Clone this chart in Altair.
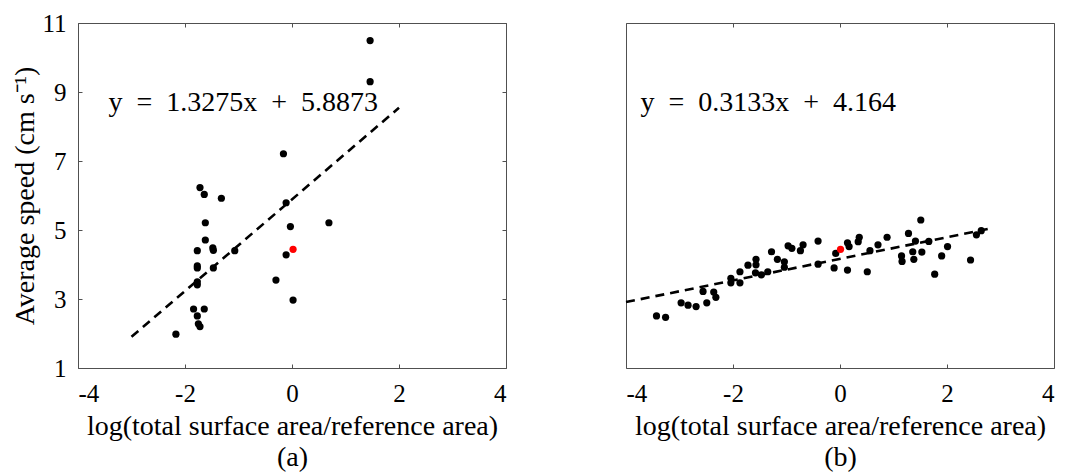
import altair as alt
import pandas as pd

# ---------------- data ----------------
# Panel (a)
a_x = [1.46, 1.46, -0.16, -1.72, -1.64, -1.32, -0.11, -1.62, -0.03, 0.69,
       -1.62, -1.77, -1.48, -1.47, -1.07, -0.11, -1.77, -1.77, -1.47, -1.77,
       -1.77, -0.30, 0.02, -1.84, -1.64, -1.77, -1.75, -1.72, -2.17]
a_y = [10.49, 9.30, 7.21, 6.23, 6.03, 5.92, 5.79, 5.21, 5.10, 5.21,
       4.71, 4.40, 4.48, 4.41, 4.40, 4.28, 3.96, 3.90, 3.90, 3.50,
       3.41, 3.55, 2.97, 2.71, 2.71, 2.51, 2.28, 2.20, 1.98]
a_red_x = [0.02]
a_red_y = [4.44]
a_slope, a_icpt = 1.3275, 5.8873
a_fit_x = [-3.0, 2.0]
a_eq = "y\u2002=\u20021.3275x\u2002+\u20025.8873"

# Panel (b)
b_x = [-3.43, -3.26, -2.97, -2.84, -2.69, -2.56, -2.49, -2.36, -2.32, -2.04,
       -2.04, -1.87, -1.87, -1.72, -1.57, -1.57, -1.58, -1.47, -1.35, -1.28,
       -1.17, -1.04, -1.04, -0.97, -0.90, -0.74, -0.69, -0.41, -0.41, -0.11,
       -0.08, 0.14, 0.17, 0.14, 0.36, 0.34, 0.51, 0.56, 0.71, 0.88,
       1.15, 1.16, 1.28, 1.36, 1.38, 1.41, 1.51, 1.53, 1.66, 1.77,
       1.90, 2.01, 2.44, 2.55, 2.64]
b_y = [2.51, 2.47, 2.89, 2.82, 2.78, 3.22, 2.89, 3.20, 3.05, 3.60,
       3.47, 3.79, 3.47, 3.98, 4.15, 3.99, 3.76, 3.70, 3.79, 4.37,
       4.15, 4.08, 3.92, 4.54, 4.47, 4.40, 4.57, 4.68, 4.01, 3.90,
       4.32, 4.63, 4.52, 3.84, 4.79, 4.66, 3.79, 4.40, 4.57, 4.79,
       4.25, 4.09, 4.90, 4.37, 4.15, 4.68, 5.29, 4.36, 4.67, 3.72,
       4.25, 4.52, 4.13, 4.86, 4.98]
b_red_x = [0.01]
b_red_y = [4.44]
b_slope, b_icpt = 0.3133, 4.164
b_fit_x = [-4.0, 2.8]
b_eq = "y\u2002=\u20020.3133x\u2002+\u20024.164"

x_ticks = [-4, -2, 0, 2, 4]
y_ticks = [1, 3, 5, 7, 9, 11]
x_title = "log(total surface area/reference area)"
y_title = "Average speed (cm s\u207b\u00b9)"

FONT = "Liberation Serif, serif"
FRAME = "#505050"


def panel(px, py, rx, ry, slope, icpt, fit_x, eq, eq_x, eq_y, caption, show_y):
    xs = alt.Scale(domain=[-4, 4], nice=False, zero=False)
    ys = alt.Scale(domain=[1, 11], nice=False, zero=False)

    x_bottom = alt.Axis(orient="bottom", values=x_ticks, offset=-4, tickSize=4,
                        domain=False, grid=False, labelExpr="toString(datum.value)",
                        labelPadding=13, title=[x_title, caption], titlePadding=6,
                        titleLineHeight=31)
    x_top = alt.Axis(orient="top", values=x_ticks, offset=-4, tickSize=4,
                     domain=False, grid=False, labels=False, title=None)
    if show_y:
        y_left = alt.Axis(orient="left", values=y_ticks, offset=-4, tickSize=4,
                          domain=False, grid=False, labelPadding=12,
                          labelExpr="toString(datum.value)",
                          title=y_title, titlePadding=2)
        y_right = alt.Axis(orient="right", values=y_ticks, offset=-4, tickSize=4,
                           domain=False, grid=False, labels=False, title=None)
    else:
        y_left = None
        y_right = None

    pts = pd.DataFrame({"x": px, "y": py})
    red = pd.DataFrame({"x": rx, "y": ry})
    fit = pd.DataFrame({"x": fit_x})
    eqd = pd.DataFrame({"x": [eq_x], "y": [eq_y], "t": [eq]})

    l_pts = alt.Chart(pts).mark_circle(size=52, color="black", opacity=1).encode(
        x=alt.X("x:Q", scale=xs, axis=x_bottom),
        y=alt.Y("y:Q", scale=ys, axis=y_left),
    )
    l_red = alt.Chart(red).mark_circle(size=52, color="#ff0000", opacity=1).encode(
        x=alt.X("x:Q", scale=xs, axis=x_top),
        y=alt.Y("y:Q", scale=ys, axis=y_right),
    )
    l_fit = alt.Chart(fit).transform_calculate(
        y=f"{slope} * datum.x + {icpt}"
    ).mark_line(color="black", strokeWidth=2.6, strokeDash=[9, 6]).encode(
        x=alt.X("x:Q", scale=xs, axis=None),
        y=alt.Y("y:Q", scale=ys, axis=None),
    )
    l_txt = alt.Chart(eqd).mark_text(align="left", baseline="middle", font=FONT,
                                     fontSize=28, color="black").encode(
        x=alt.X("x:Q", scale=xs, axis=None),
        y=alt.Y("y:Q", scale=ys, axis=None),
        text="t:N",
    )
    return alt.layer(l_fit, l_pts, l_red, l_txt).resolve_axis(
        x="independent", y="independent"
    ).properties(width=428, height=345)


pa = panel(a_x, a_y, a_red_x, a_red_y, a_slope, a_icpt, a_fit_x, a_eq,
           -3.43, 8.68, "(a)", True)
pb = panel(b_x, b_y, b_red_x, b_red_y, b_slope, b_icpt, b_fit_x, b_eq,
           -3.73, 8.68, "(b)", False)

chart = alt.hconcat(pa, pb, spacing=113).properties(
    padding={"left": 3, "top": 2, "right": 0, "bottom": 0}
).configure_view(stroke=FRAME, strokeWidth=1).configure_axis(
    labelFont=FONT, titleFont=FONT, labelFontSize=25, titleFontSize=28,
    labelColor="black", titleColor="black", titleFontWeight="normal",
    tickColor=FRAME, tickWidth=1,
)

chart.save("out.html", embed_options={"renderer": "svg", "actions": False})
